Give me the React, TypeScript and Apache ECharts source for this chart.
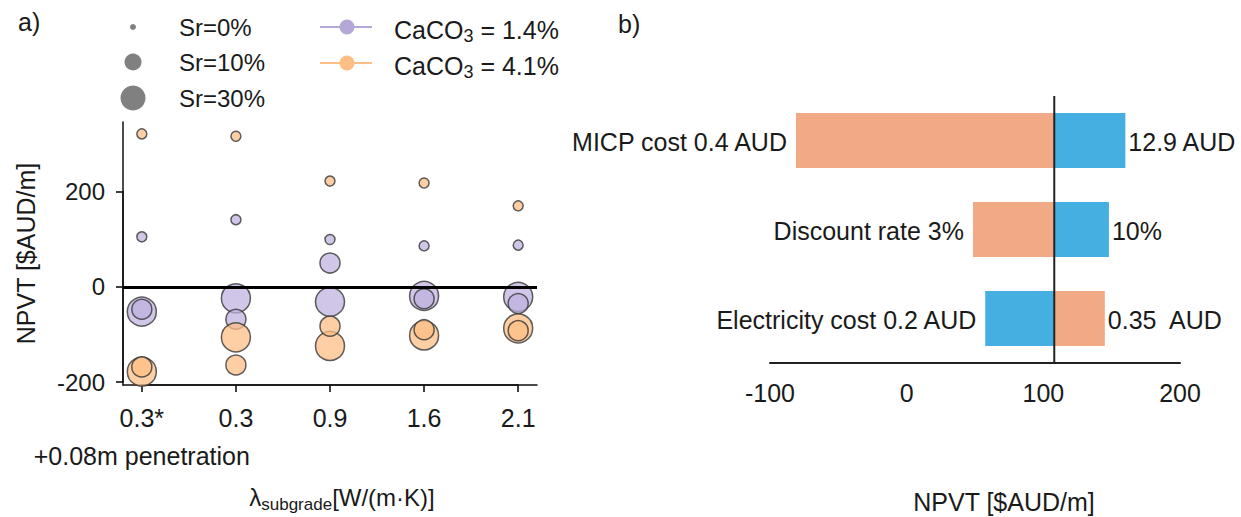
import React, { useEffect, useRef } from "react";
import * as echarts from "echarts";

const FONT = '"Liberation Sans", Arial, Helvetica, sans-serif';
const TEXT = "#1a1a1a";

// ---- Panel a) data ----
const lambdaCategories = ["0.3*", "0.3", "0.9", "1.6", "2.1"];
const lambdaNotes = ["+0.08m penetration", "", "", "", ""];
const categoryIndex = [0, 1, 2, 3, 4];
const srLevels = [0, 10, 30];
const srLegendLabels = ["Sr=0%", "Sr=10%", "Sr=30%"];
// CaCO3 = 1.4 %
const purpleSr0 = [105, 141, 99.5, 86, 87.5];
const purpleSr10 = [-47, -68, 50, -25, -35];
const purpleSr30 = [-52, -24, -31.5, -19, -21];
// CaCO3 = 4.1 %
const orangeSr0 = [321, 316, 222, 218, 170];
const orangeSr10 = [-168, -164, -82.5, -90, -92];
const orangeSr30 = [-178, -106, -124, -102, -87];

// ---- Panel b) data ----
const tornadoCategories = ["MICP cost", "Discount rate", "Electricity cost"];
const lowLabels = ["MICP cost 0.4 AUD", "Discount rate 3%", "Electricity cost 0.2 AUD"];
const highLabels = ["12.9 AUD", "10%", "0.35  AUD"];
const leftValues = [-81, 48.5, 57.5];
const rightValues = [160, 148, 145];
const baseValue = 108;

const ORANGE_BAR = "#f2a985";
const BLUE_BAR = "#45afe1";
const leftColors = [ORANGE_BAR, ORANGE_BAR, BLUE_BAR];
const rightColors = [BLUE_BAR, BLUE_BAR, ORANGE_BAR];

const PURPLE_FILL = "rgba(190,176,222,0.72)";
const ORANGE_FILL = "rgba(253,190,133,0.75)";
const EDGE = "rgba(55,55,55,0.8)";
const PURPLE_LEG = "#b5a8d6";
const ORANGE_LEG = "#fdbf86";

const sizeBySr: Record<number, number> = { 0: 10, 10: 20, 30: 29 };
const legendDotR = [3, 8.5, 12.5];

// panel a) axis ranges
const A_X_MIN = -0.2;
const A_X_MAX = 4.2;
const A_Y_MIN = -206;
const A_Y_MAX = 346;
const A_LEFT = 123;
const A_TOP = 122;
const A_W = 414;
const A_H = 263;

function buildData(s0: number[], s10: number[], s30: number[]) {
  const out: number[][] = [];
  categoryIndex.forEach((i) => {
    out.push([i, s30[i], 30]);
    out.push([i, s10[i], 10]);
    out.push([i, s0[i], 0]);
  });
  return out;
}

const hiddenAxis = (gridIndex: number) => ({ gridIndex, type: "value", show: false, min: 0, max: 1 });
const axisLine = () => ({ show: true, onZero: false, lineStyle: { color: "#111", width: 1.5 } });
const axisTick = () => ({ show: true, inside: false, length: 7, lineStyle: { color: "#111", width: 1.6 } });

export default function App() {
  const ref = useRef<HTMLDivElement>(null);
  useEffect(() => {
    if (!ref.current) return;
    const chart = echarts.init(ref.current, undefined, { renderer: "svg" });

    // overlay grids carrying the ticks/labels of panel a)
    const pxX = A_W / (A_X_MAX - A_X_MIN);
    const pxY = A_H / (A_Y_MAX - A_Y_MIN);
    const tickGridX = {
      left: A_LEFT + (0 - A_X_MIN) * pxX,
      top: A_TOP,
      width: 4 * pxX,
      height: A_H,
    };
    const tickGridY = {
      left: A_LEFT,
      top: A_TOP + (A_Y_MAX - 200) * pxY,
      width: A_W,
      height: 400 * pxY,
    };

    const legendGraphics: any[] = [];
    srLevels.forEach((s, k) => {
      const cy = [27, 62, 98][k];
      legendGraphics.push({
        type: "circle",
        shape: { cx: 133, cy, r: legendDotR[k] },
        style: { fill: "#808080" },
      });
      legendGraphics.push({
        type: "text",
        x: 179,
        y: cy,
        style: { text: srLegendLabels[k], fontSize: 24, fontFamily: FONT, fill: TEXT, verticalAlign: "middle", align: "left" },
      });
    });
    [
      { cy: 27, color: PURPLE_LEG, label: "{m|CaCO}{s|3}{m| = 1.4%}" },
      { cy: 63, color: ORANGE_LEG, label: "{m|CaCO}{s|3}{m| = 4.1%}" },
    ].forEach((l) => {
      legendGraphics.push({
        type: "line",
        shape: { x1: 320, y1: l.cy, x2: 372, y2: l.cy },
        style: { stroke: l.color, lineWidth: 2 },
      });
      legendGraphics.push({
        type: "circle",
        shape: { cx: 347, cy: l.cy, r: 7.5 },
        style: { fill: l.color },
      });
      legendGraphics.push({
        type: "text",
        x: 394,
        y: l.cy + 3,
        style: {
          text: l.label,
          fill: TEXT,
          verticalAlign: "middle",
          align: "left",
          rich: {
            m: { fontSize: 25, lineHeight: 30, fontFamily: FONT, fill: TEXT },
            s: { fontSize: 18, lineHeight: 18, fontFamily: FONT, fill: TEXT, verticalAlign: "bottom" },
          },
        },
      });
    });

    const option: any = {
      animation: false,
      backgroundColor: "#ffffff",
      textStyle: { fontFamily: FONT },
      grid: [
        { left: A_LEFT, top: A_TOP, width: A_W, height: A_H },
        { left: 770, top: 96, width: 410, height: 267 },
        tickGridX,
        tickGridY,
        tickGridX,
      ],
      xAxis: [
        {
          gridIndex: 0,
          type: "value",
          min: A_X_MIN,
          max: A_X_MAX,
          axisLine: axisLine(),
          axisTick: { show: false },
          axisLabel: { show: false },
          splitLine: { show: false },
        },
        {
          gridIndex: 1,
          type: "value",
          min: -100,
          max: 200,
          interval: 100,
          axisLine: { show: true, onZero: false, lineStyle: { color: "#222", width: 2 } },
          axisTick: { show: false },
          axisLabel: { fontSize: 25, margin: 17, color: TEXT, fontFamily: FONT },
          splitLine: { show: false },
        },
        {
          gridIndex: 2,
          type: "value",
          min: 0,
          max: 4,
          interval: 1,
          axisLine: axisLine(),
          axisTick: axisTick(),
          axisLabel: {
            formatter: (v: number) => lambdaCategories[Math.round(v)],
            showMinLabel: true,
            showMaxLabel: true,
            hideOverlap: false,
            fontSize: 25,
            margin: 20,
            color: TEXT,
            fontFamily: FONT,
          },
          splitLine: { show: false },
        },
        hiddenAxis(3),
        {
          gridIndex: 4,
          type: "value",
          min: 0,
          max: 4,
          interval: 1,
          axisLine: { show: false },
          axisTick: { show: false },
          axisLabel: {
            formatter: (v: number) => lambdaNotes[Math.round(v)],
            showMinLabel: true,
            showMaxLabel: true,
            hideOverlap: false,
            fontSize: 25,
            margin: 58,
            color: TEXT,
            fontFamily: FONT,
          },
          splitLine: { show: false },
        },
      ],
      yAxis: [
        {
          gridIndex: 0,
          type: "value",
          min: A_Y_MIN,
          max: A_Y_MAX,
          name: "NPVT [$AUD/m]",
          nameLocation: "middle",
          nameGap: 85,
          nameTextStyle: { fontSize: 25, color: TEXT, fontFamily: FONT },
          axisLine: axisLine(),
          axisTick: { show: false },
          axisLabel: { show: false },
          splitLine: { show: false },
        },
        {
          gridIndex: 1,
          type: "value",
          min: -0.5,
          max: 2.5,
          inverse: true,
          axisLine: { show: false },
          axisTick: { show: false },
          axisLabel: { show: false },
          splitLine: { show: false },
        },
        hiddenAxis(2),
        {
          gridIndex: 3,
          type: "value",
          min: -200,
          max: 200,
          interval: 200,
          axisLine: axisLine(),
          axisTick: axisTick(),
          axisLabel: { showMinLabel: true, showMaxLabel: true, fontSize: 24, margin: 18, color: TEXT, fontFamily: FONT },
          splitLine: { show: false },
        },
        hiddenAxis(4),
      ],
      series: [
        {
          type: "scatter",
          name: "CaCO3 = 1.4%",
          xAxisIndex: 0,
          yAxisIndex: 0,
          data: buildData(purpleSr0, purpleSr10, purpleSr30),
          symbolSize: (v: number[]) => sizeBySr[v[2]],
          itemStyle: { color: PURPLE_FILL, borderColor: EDGE, borderWidth: 1.5, opacity: 1 },
        },
        {
          type: "scatter",
          name: "CaCO3 = 4.1%",
          xAxisIndex: 0,
          yAxisIndex: 0,
          data: buildData(orangeSr0, orangeSr10, orangeSr30),
          symbolSize: (v: number[]) => sizeBySr[v[2]],
          itemStyle: { color: ORANGE_FILL, borderColor: EDGE, borderWidth: 1.5, opacity: 1 },
          markLine: {
            silent: true,
            symbol: "none",
            label: { show: false },
            lineStyle: { color: "#000", width: 3, type: "solid" },
            data: [{ yAxis: 0 }],
          },
        },
        { type: "scatter", xAxisIndex: 2, yAxisIndex: 2, data: [], silent: true },
        { type: "scatter", xAxisIndex: 3, yAxisIndex: 3, data: [], silent: true },
        {
          type: "custom",
          xAxisIndex: 1,
          yAxisIndex: 1,
          data: tornadoCategories.map((c, i) => [leftValues[i], rightValues[i], i]),
          encode: { x: [0, 1], y: 2 },
          renderItem: (params: any, api: any) => {
            const idx = params.dataIndex;
            const cat = api.value(2);
            const pBase = api.coord([baseValue, cat]);
            const pLow = api.coord([api.value(0), cat]);
            const pHigh = api.coord([api.value(1), cat]);
            const h = Math.abs(api.size([0, 1])[1]) * 0.62;
            return {
              type: "group",
              children: [
                {
                  type: "rect",
                  shape: { x: pLow[0], y: pBase[1] - h / 2, width: pBase[0] - pLow[0], height: h },
                  style: { fill: leftColors[idx] },
                },
                {
                  type: "rect",
                  shape: { x: pBase[0], y: pBase[1] - h / 2, width: pHigh[0] - pBase[0], height: h },
                  style: { fill: rightColors[idx] },
                },
                {
                  type: "text",
                  x: pLow[0] - 9,
                  y: pBase[1] + 1,
                  style: { text: lowLabels[idx], fontSize: 25, fontFamily: FONT, fill: TEXT, align: "right", verticalAlign: "middle" },
                },
                {
                  type: "text",
                  x: pHigh[0] + 3,
                  y: pBase[1] + 1,
                  style: { text: highLabels[idx], fontSize: 25, fontFamily: FONT, fill: TEXT, align: "left", verticalAlign: "middle" },
                },
              ],
            };
          },
        },
        {
          type: "line",
          xAxisIndex: 1,
          yAxisIndex: 1,
          data: [
            [baseValue, -0.5],
            [baseValue, 2.5],
          ],
          symbol: "none",
          silent: true,
          lineStyle: { color: "#222", width: 2 },
          z: 5,
        },
      ],
      graphic: [
        {
          type: "text",
          x: 18,
          y: 22,
          style: { text: "a)", fontSize: 25, fontFamily: FONT, fill: TEXT, verticalAlign: "middle" },
        },
        {
          type: "text",
          x: 618,
          y: 24,
          style: { text: "b)", fontSize: 25, fontFamily: FONT, fill: TEXT, verticalAlign: "middle" },
        },
        ...legendGraphics,
        {
          type: "text",
          x: 342,
          y: 497,
          style: {
            text: "{m|λ}{s|subgrade}{m|[W/(m·K)]}",
            align: "center",
            verticalAlign: "middle",
            rich: {
              m: { fontSize: 24, lineHeight: 32, fontFamily: FONT, fill: TEXT },
              s: { fontSize: 17, lineHeight: 17, fontFamily: FONT, fill: TEXT, verticalAlign: "bottom" },
            },
          },
        },
        {
          type: "text",
          x: 1004,
          y: 502,
          style: { text: "NPVT [$AUD/m]", fontSize: 25, fontFamily: FONT, fill: TEXT, align: "center", verticalAlign: "middle" },
        },
      ],
    };

    chart.setOption(option);
    return () => chart.dispose();
  }, []);

  return (
    <div
      ref={ref}
      style={{ position: "fixed", left: 0, top: 0, width: 1241, height: 517, background: "#fff" }}
    />
  );
}
